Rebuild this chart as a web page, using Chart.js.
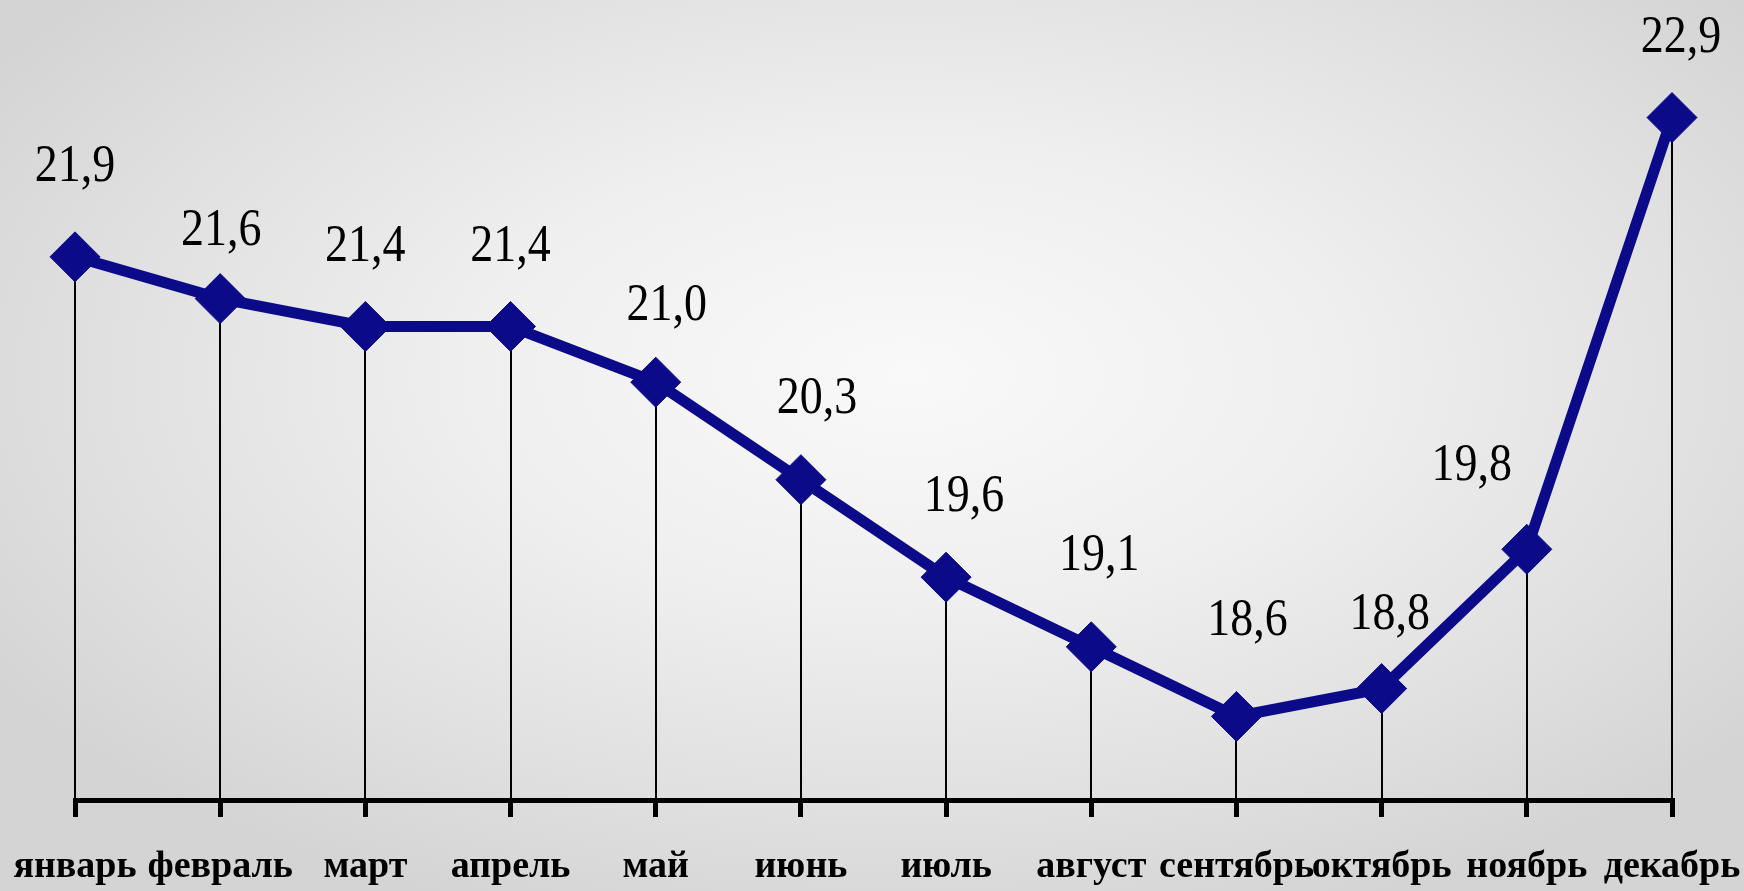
<!DOCTYPE html>
<html>
<head>
<meta charset="utf-8">
<script src="https://cdn.jsdelivr.net/npm/chart.js@4"></script>
<style>
  html, body { margin: 0; padding: 0; }
  body {
    width: 1744px; height: 891px; overflow: hidden;
    background: radial-gradient(ellipse 62% 65% at 52% 42%, #f9f9f9 0%, #efefef 40%, #e0e0e0 75%, #d4d4d4 100%);
  }
  #wrap { position: relative; width: 1744px; height: 891px; }
</style>
</head>
<body>
<div id="wrap"><canvas id="c"></canvas></div>
<script>
const months = ['январь','февраль','март','апрель','май','июнь','июль','август','сентябрь','октябрь','ноябрь','декабрь'];
const values = [21.9, 21.6, 21.4, 21.4, 21.0, 20.3, 19.6, 19.1, 18.6, 18.8, 19.8, 22.9];
const valueLabels = ['21,9','21,6','21,4','21,4','21,0','20,3','19,6','19,1','18,6','18,8','19,8','22,9'];
// label placement relative to each point (style, not data)
const labelDx = [0, 1, 0, 0, 11, 16, 18, 8, 11, 8, -55, 9];
const labelDy = [92, 70, 82, 82, 78, 83, 82, 93, 98, 76, 85, 82];

const dropLines = {
  id: 'dropLines',
  beforeDatasetsDraw(chart) {
    const ctx = chart.ctx;
    const meta = chart.getDatasetMeta(0);
    ctx.save();
    ctx.strokeStyle = '#000';
    ctx.lineWidth = 2;
    meta.data.forEach(pt => {
      ctx.beginPath();
      ctx.moveTo(Math.round(pt.x), pt.y);
      ctx.lineTo(Math.round(pt.x), chart.chartArea.bottom);
      ctx.stroke();
    });
    ctx.restore();
  }
};

const valueLabelsPlugin = {
  id: 'valueLabels',
  afterDatasetsDraw(chart) {
    const ctx = chart.ctx;
    const meta = chart.getDatasetMeta(0);
    ctx.save();
    ctx.fillStyle = '#000';
    ctx.font = '46px "Liberation Serif", "Times New Roman", serif';
    ctx.textAlign = 'center';
    ctx.textBaseline = 'middle';
    meta.data.forEach((pt, i) => {
      const cx = pt.x + labelDx[i];
      const cy = pt.y - labelDy[i];
      ctx.save();
      ctx.translate(cx, cy);
      ctx.scale(1, 1.15);
      ctx.fillText(valueLabels[i], 0, 2);
      ctx.restore();
    });
    ctx.restore();
  }
};

new Chart(document.getElementById('c'), {
  type: 'line',
  data: {
    labels: months,
    datasets: [{
      data: values,
      borderColor: '#0b0b8a',
      backgroundColor: '#0b0b8a',
      borderWidth: 11,
      tension: 0,
      pointStyle: 'rectRot',
      pointRadius: 25,
      pointHoverRadius: 25,
      pointBorderWidth: 1,
      pointBackgroundColor: '#0b0b8a',
      pointBorderColor: '#0b0b8a',
      clip: false
    }]
  },
  options: {
    responsive: true,
    maintainAspectRatio: false,
    animation: false,
    layout: { padding: { left: 75, right: 72, top: 34, bottom: 0 } },
    plugins: { legend: { display: false }, tooltip: { enabled: false } },
    scales: {
      x: {
        offset: false,
        afterFit(scale) { scale.height = 91; },
        border: { display: true, color: '#000', width: 5 },
        grid: { display: true, drawOnChartArea: false, drawTicks: true, tickLength: 17, lineWidth: 5, color: '#000' },
        ticks: {
          autoSkip: false, maxRotation: 0, minRotation: 0, padding: 0,
          color: '#000',
          font: { family: '"Liberation Serif", "Times New Roman", serif', size: 38, weight: 'bold', lineHeight: 2.66 }
        }
      },
      y: { display: false, min: 18, max: 23.5 }
    }
  },
  plugins: [dropLines, valueLabelsPlugin]
});
</script>
</body>
</html>
